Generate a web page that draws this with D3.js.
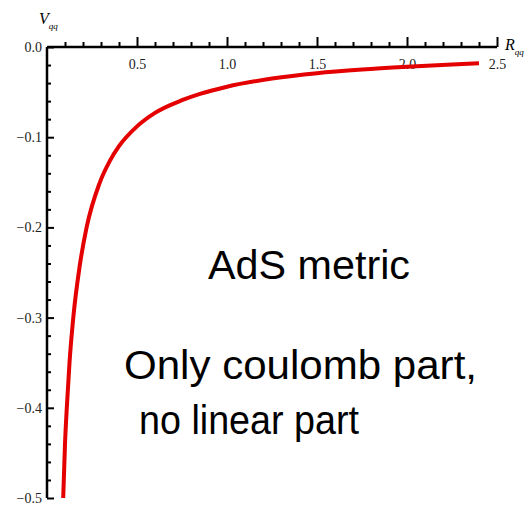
<!DOCTYPE html>
<html>
<head>
<meta charset="utf-8">
<script src="https://cdn.jsdelivr.net/npm/d3@7"></script>
<style>
  body { margin: 0; background: #fff; }
  svg { display: block; }
  .tick text { font-family: "Liberation Serif", "DejaVu Serif", serif; font-size: 14px; fill: #222; }
  .note { font-family: "Liberation Sans", Arial, sans-serif; font-size: 40px; fill: #000; }
</style>
</head>
<body>
<svg id="chart"></svg>
<script>
"use strict";

// values: R_qq and V_qq
let rValues = [0.09, 0.10, 0.11, 0.125, 0.146, 0.18, 0.22, 0.29, 0.35, 0.40, 0.50, 0.60, 0.75, 0.85, 1.0, 1.25, 1.5, 1.75, 2.0, 2.25, 2.4];
let vValues = [-0.50, -0.44, -0.40, -0.35, -0.30, -0.245, -0.20, -0.152, -0.126, -0.11, -0.088, -0.073, -0.059, -0.052, -0.044, -0.035, -0.029, -0.025, -0.022, -0.0195, -0.018];

let xMajor = [0.5, 1.0, 1.5, 2.0, 2.5];
let xMinor = [0.1, 0.2, 0.3, 0.4, 0.6, 0.7, 0.8, 0.9, 1.1, 1.2, 1.3, 1.4, 1.6, 1.7, 1.8, 1.9, 2.1, 2.2, 2.3, 2.4];
let yMajor = [0.0, -0.1, -0.2, -0.3, -0.4, -0.5];
let yMinor = [-0.02, -0.04, -0.06, -0.08, -0.12, -0.14, -0.16, -0.18, -0.22, -0.24, -0.26, -0.28,
              -0.32, -0.34, -0.36, -0.38, -0.42, -0.44, -0.46, -0.48];

let notes = [
    { text: "AdS metric", x: 208, y: 279, len: 202 },
    { text: "Only coulomb part,", x: 124, y: 379, len: 353 },
    { text: "no linear part", x: 139, y: 434, len: 220 }
];

const width = 524, height = 505;
const x0 = 47, y0 = 47;

let svg = d3.select("#chart")
    .attr("width", width)
    .attr("height", height);

let x = d3.scaleLinear().domain([0, 2.5]).range([x0, x0 + 450]);
let y = d3.scaleLinear().domain([0, -0.5]).range([y0, y0 + 451]);

// x axis: ticks point up, labels below the line
let xAxis = svg.append("g").attr("transform", `translate(0,${y0})`);
xAxis.append("g")
    .call(d3.axisBottom(x).tickValues(xMinor).tickSizeInner(-5).tickSizeOuter(0).tickFormat(""))
    .call(g => g.select(".domain").remove());
xAxis.append("g")
    .call(d3.axisBottom(x).tickValues(xMajor).tickSizeInner(-10).tickSizeOuter(0).tickPadding(12).tickFormat(d3.format(".1f")));
xAxis.selectAll("line").attr("stroke", "#000").attr("stroke-width", 2);
xAxis.select(".domain").attr("d", `M${x0},0H${x(2.5)}`).attr("stroke", "#000").attr("stroke-width", 2.5);

// y axis: ticks point right, labels on the left
let yAxis = svg.append("g").attr("transform", `translate(${x0},0)`);
yAxis.append("g")
    .call(d3.axisLeft(y).tickValues(yMinor).tickSizeInner(-4).tickSizeOuter(0).tickFormat(""))
    .call(g => g.select(".domain").remove());
yAxis.append("g")
    .call(d3.axisLeft(y).tickValues(yMajor).tickSizeInner(-7).tickSizeOuter(0).tickPadding(5).tickFormat(d3.format(".1f")));
yAxis.selectAll("line").attr("stroke", "#000").attr("stroke-width", 2);
yAxis.select(".domain").attr("d", `M0,${y0}V${y(-0.5)}`).attr("stroke", "#000").attr("stroke-width", 2.5);

// axis names
let vLabel = svg.append("text")
    .attr("x", 39).attr("y", 24)
    .attr("font-family", "Liberation Serif, serif")
    .attr("font-style", "italic")
    .attr("font-size", 16);
vLabel.append("tspan").text("V");
vLabel.append("tspan").attr("font-size", 9).attr("dy", 5).text("qq");

let rLabel = svg.append("text")
    .attr("x", 505).attr("y", 50)
    .attr("font-family", "Liberation Serif, serif")
    .attr("font-style", "italic")
    .attr("font-size", 16);
rLabel.append("tspan").text("R");
rLabel.append("tspan").attr("font-size", 9).attr("dy", 5).text("qq");

// the curve
let points = rValues.map((r, i) => [r, vValues[i]]);
svg.append("path")
    .datum(points)
    .attr("fill", "none")
    .attr("stroke", "#e40000")
    .attr("stroke-width", 4)
    .attr("stroke-linecap", "butt")
    .attr("d", d3.line().x(d => x(d[0])).y(d => y(d[1])).curve(d3.curveMonotoneX));

// annotation text
svg.selectAll("text.note")
    .data(notes)
    .enter()
    .append("text")
    .attr("class", "note")
    .attr("x", d => d.x)
    .attr("y", d => d.y)
    .attr("textLength", d => d.len)
    .attr("lengthAdjust", "spacingAndGlyphs")
    .text(d => d.text);
</script>
</body>
</html>
